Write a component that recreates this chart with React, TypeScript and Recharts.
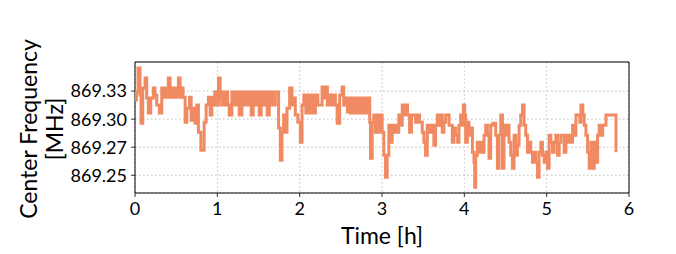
import { LineChart, Line, XAxis, YAxis, CartesianGrid, ReferenceArea } from "recharts"

// time in hours, center frequency in MHz
const hours = [
  0.000, 0.018, 0.037, 0.061, 0.073, 0.094, 0.122, 0.142, 0.162, 0.191,
  0.223, 0.243, 0.264, 0.296, 0.325, 0.341, 0.359, 0.377, 0.405, 0.426,
  0.444, 0.462, 0.481, 0.499, 0.527, 0.548, 0.566, 0.584, 0.609, 0.629,
  0.661, 0.682, 0.710, 0.730, 0.751, 0.770, 0.800, 0.824, 0.840, 0.864,
  0.892, 0.913, 0.933, 0.949, 0.968, 0.986, 1.014, 1.034, 1.053, 1.071,
  1.089, 1.107, 1.126, 1.144, 1.177, 1.193, 1.211, 1.229, 1.247, 1.266,
  1.299, 1.320, 1.339, 1.363, 1.387, 1.412, 1.436, 1.460, 1.485, 1.509,
  1.533, 1.558, 1.582, 1.606, 1.631, 1.667, 1.704, 1.744, 1.765, 1.785,
  1.805, 1.826, 1.846, 1.878, 1.907, 1.926, 1.947, 1.978, 2.008, 2.029,
  2.051, 2.075, 2.099, 2.124, 2.148, 2.172, 2.191, 2.221, 2.251, 2.272,
  2.292, 2.312, 2.337, 2.361, 2.385, 2.410, 2.434, 2.455, 2.486, 2.516,
  2.535, 2.556, 2.580, 2.596, 2.617, 2.637, 2.659, 2.683, 2.708, 2.738,
  2.763, 2.787, 2.811, 2.836, 2.851, 2.860, 2.881, 2.900, 2.921, 2.942,
  2.961, 2.982, 3.002, 3.022, 3.043, 3.063, 3.083, 3.103, 3.124, 3.146,
  3.170, 3.189, 3.204, 3.225, 3.246, 3.265, 3.286, 3.310, 3.335, 3.359,
  3.387, 3.408, 3.432, 3.456, 3.489, 3.509, 3.529, 3.550, 3.572, 3.596,
  3.614, 3.630, 3.651, 3.672, 3.691, 3.712, 3.732, 3.752, 3.773, 3.793,
  3.815, 3.834, 3.854, 3.874, 3.894, 3.919, 3.935, 3.955, 3.976, 3.988,
  4.004, 4.016, 4.037, 4.056, 4.077, 4.098, 4.117, 4.126, 4.138, 4.158,
  4.180, 4.205, 4.223, 4.239, 4.260, 4.280, 4.300, 4.320, 4.345, 4.363,
  4.381, 4.402, 4.421, 4.442, 4.463, 4.482, 4.503, 4.524, 4.543, 4.564,
  4.584, 4.604, 4.625, 4.645, 4.665, 4.685, 4.706, 4.726, 4.746, 4.767,
  4.786, 4.807, 4.828, 4.847, 4.868, 4.889, 4.908, 4.929, 4.949, 4.969,
  4.990, 5.010, 5.030, 5.051, 5.071, 5.091, 5.111, 5.132, 5.152, 5.172,
  5.193, 5.212, 5.233, 5.254, 5.273, 5.294, 5.315, 5.334, 5.355, 5.379,
  5.403, 5.416, 5.440, 5.456, 5.477, 5.497, 5.517, 5.537, 5.558, 5.578,
  5.598, 5.619, 5.638, 5.659, 5.680, 5.699, 5.720, 5.757, 5.793, 5.817,
  5.842,
]

const mhz = [
  869.3170, 869.3241, 869.3455, 869.3214, 869.2964, 869.3277, 869.3366, 869.3188, 869.3054, 869.3188,
  869.3277, 869.3214, 869.3125, 869.3054, 869.3277, 869.3196, 869.3277, 869.3196, 869.3366, 869.3196,
  869.3277, 869.3196, 869.3277, 869.3196, 869.3366, 869.3196, 869.3277, 869.3196, 869.2973, 869.3098,
  869.3196, 869.2991, 869.3098, 869.2964, 869.3125, 869.2884, 869.2723, 869.2723, 869.2973, 869.3125,
  869.3196, 869.3036, 869.3196, 869.3125, 869.3241, 869.3125, 869.3366, 869.3196, 869.3125, 869.3241,
  869.3125, 869.3241, 869.3125, 869.3036, 869.3241, 869.3125, 869.3241, 869.3125, 869.3241, 869.3036,
  869.3241, 869.3125, 869.3241, 869.3125, 869.3241, 869.3036, 869.3241, 869.3125, 869.3241, 869.3036,
  869.3241, 869.3125, 869.3241, 869.3036, 869.3241, 869.3125, 869.3241, 869.2920, 869.2634, 869.2884,
  869.3036, 869.2884, 869.3098, 869.3277, 869.3125, 869.3188, 869.3036, 869.2973, 869.2795, 869.3125,
  869.3214, 869.3054, 869.3214, 869.3054, 869.3214, 869.3054, 869.3214, 869.3125, 869.3125, 869.3286,
  869.3188, 869.3286, 869.3125, 869.3214, 869.3125, 869.3214, 869.3125, 869.2964, 869.3214, 869.3286,
  869.3125, 869.3188, 869.3063, 869.3188, 869.3054, 869.3188, 869.3054, 869.3188, 869.3054, 869.3188,
  869.3054, 869.3188, 869.3054, 869.3188, 869.2973, 869.2652, 869.2973, 869.3036, 869.2884, 869.3036,
  869.2884, 869.3036, 869.2884, 869.2679, 869.2482, 869.2679, 869.2946, 869.2795, 869.2946, 869.2884,
  869.2946, 869.2884, 869.3036, 869.2946, 869.3125, 869.3036, 869.3125, 869.3036, 869.2884, 869.3036,
  869.3036, 869.2973, 869.3036, 869.2973, 869.2884, 869.2795, 869.2679, 869.2946, 869.2884, 869.2946,
  869.2884, 869.2768, 869.2946, 869.3036, 869.2946, 869.3036, 869.2884, 869.2973, 869.3036, 869.3036,
  869.2946, 869.2946, 869.2795, 869.2920, 869.2857, 869.2795, 869.2946, 869.3036, 869.2946, 869.3125,
  869.3036, 869.2795, 869.2973, 869.2857, 869.2920, 869.2705, 869.2616, 869.2393, 869.2679, 869.2795,
  869.2705, 869.2795, 869.2705, 869.2857, 869.2946, 869.2857, 869.2652, 869.2946, 869.2964, 869.2964,
  869.2857, 869.2562, 869.2857, 869.3036, 869.2562, 869.2946, 869.2857, 869.2946, 869.2795, 869.2679,
  869.2562, 869.2857, 869.2679, 869.2768, 869.2946, 869.3036, 869.3125, 869.2946, 869.2857, 869.2705,
  869.2795, 869.2705, 869.2616, 869.2705, 869.2616, 869.2482, 869.2705, 869.2795, 869.2679, 869.2616,
  869.2705, 869.2562, 869.2857, 869.2795, 869.2705, 869.2795, 869.2857, 869.2679, 869.2795, 869.2857,
  869.2857, 869.2705, 869.2857, 869.2795, 869.2857, 869.2795, 869.2946, 869.2857, 869.3036, 869.3036,
  869.2973, 869.3125, 869.3036, 869.2946, 869.2857, 869.2705, 869.2562, 869.2795, 869.2562, 869.2795,
  869.2616, 869.2857, 869.2946, 869.2857, 869.2946, 869.2946, 869.3036, 869.3036, 869.3036, 869.3036,
  869.2705,
]

const xTicks = [0, 1, 2, 3, 4, 5, 6]
const yTicks = [869.25, 869.275, 869.3, 869.325]
const yTickLabels = ["869.25", "869.27", "869.30", "869.33"]

const yMin = 869.2342
const yMax = 869.3509

const data = hours.map((h, i) => ({ h, f: mhz[i] }))

const font = "Lato, 'Liberation Sans', sans-serif"

function YTitle() {
  return (
    <g fontFamily={font} fontSize={23} fill="#000">
      <text x={37} y={129} textAnchor="middle" transform="rotate(-90, 37, 129)">
        Center Frequency
      </text>
      <text x={63} y={129} textAnchor="middle" transform="rotate(-90, 63, 129)">
        [MHz]
      </text>
    </g>
  )
}

function XTitle() {
  return (
    <text x={382} y={244} textAnchor="middle" fontFamily={font} fontSize={23} fill="#000">
      Time [h]
    </text>
  )
}

export default function App() {
  return (
    <div style={{ position: "absolute", left: 0, top: 0, background: "#fff" }}>
      <LineChart width={676} height={254} data={data} margin={{ top: 62, right: 47, bottom: 0, left: 0 }}>
        <CartesianGrid stroke="#b0b0b0" strokeDasharray="1.5 2.5" strokeWidth={0.8} />
        <XAxis
          dataKey="h"
          type="number"
          domain={[0, 6]}
          ticks={xTicks}
          height={61}
          axisLine={false}
          tickLine={{ stroke: "#000", strokeWidth: 0.8 }}
          tickSize={4}
          tickMargin={5}
          tick={{ fill: "#000", fontSize: 18, fontFamily: font }}
          label={<XTitle />}
        />
        <YAxis
          type="number"
          domain={[yMin, yMax]}
          ticks={yTicks}
          width={135}
          axisLine={false}
          tickLine={{ stroke: "#000", strokeWidth: 0.8 }}
          tickSize={4}
          tickMargin={4}
          tickFormatter={(v: number) => yTickLabels[yTicks.indexOf(v)] ?? String(v)}
          tick={{ fill: "#000", fontSize: 18, fontFamily: font }}
          label={<YTitle />}
          allowDataOverflow
        />
        <Line
          type="stepAfter"
          dataKey="f"
          stroke="#ef8a62"
          strokeWidth={3}
          dot={false}
          isAnimationActive={false}
        />
        <ReferenceArea x1={0} x2={6} y1={yMin} y2={yMax} fill="none" stroke="#000" strokeWidth={1} ifOverflow="visible" />
      </LineChart>
    </div>
  )
}
